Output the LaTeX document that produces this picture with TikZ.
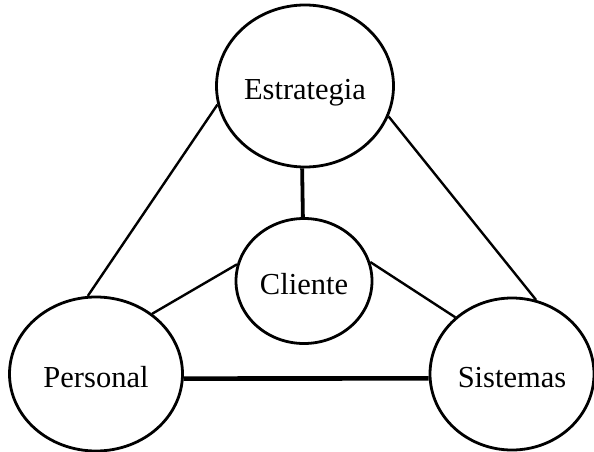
\documentclass[tikz,border=0pt]{standalone}
\usepackage{fontspec}
\setmainfont{Liberation Serif}
\usetikzlibrary{shapes.geometric}
\begin{document}
\begin{tikzpicture}[x=1pt,y=-1pt,
  bubble/.style={draw=black, ellipse, line width=2.8pt, inner sep=0pt,
    font=\fontsize{30.5}{32}\selectfont, text height=26pt, text depth=0pt},
  link/.style={draw=black, line width=2.4pt},
  thick link/.style={draw=black, line width=3.8pt},
  thicker link/.style={draw=black, line width=4.6pt}]
\useasboundingbox (0,0) rectangle (594,452);
\node[bubble, minimum width=177pt, minimum height=162pt] (est) at (305,86) {Estrategia};
\node[bubble, minimum width=136pt, minimum height=125pt] (cli) at (304,281) {Cliente};
\node[bubble, minimum width=173pt, minimum height=154pt] (per) at (96,374) {Personal};
\node[bubble, minimum width=164pt, minimum height=152pt] (sis) at (512,374) {Sistemas};
\draw[link] (est.192) -- (per.96);
\draw[link] (est.-20) -- (sis.72);
\draw[thick link] (est.268.5) -- (cli.91);
\draw[link] (cli.166) -- (per.47);
\draw[link] (cli.16) -- (sis.135);
\draw[thicker link] (per.-3) -- (sis.183);
\end{tikzpicture}
\end{document}
